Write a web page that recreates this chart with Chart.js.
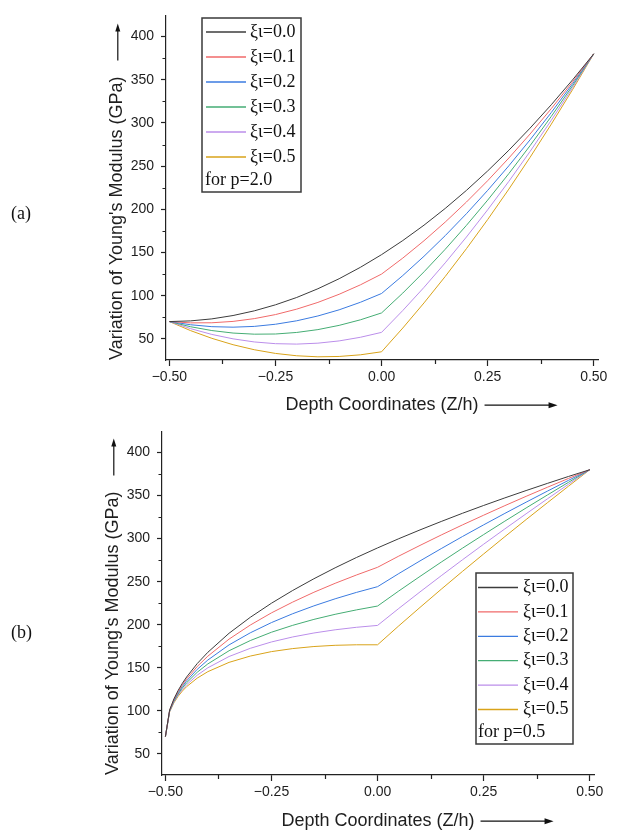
<!DOCTYPE html>
<html>
<head>
<meta charset="utf-8">
<script src="https://cdn.jsdelivr.net/npm/chart.js@4.4.1/dist/chart.umd.min.js"></script>
<style>
  body { margin: 0; background: #fff; width: 620px; height: 832px; position: relative; overflow: hidden; }
  .panel { position: absolute; left: 0; width: 620px; height: 416px; }
  .tag { position: absolute; left: 11px; font: 18px "Liberation Serif", serif; color: #111; }
</style>
</head>
<body>
<div class="panel" style="top:0"><canvas id="chartA"></canvas></div>
<div class="panel" style="top:416px"><canvas id="chartB"></canvas></div>
<div class="tag" style="top:203px">(a)</div>
<div class="tag" style="top:622px">(b)</div>
<script>
// series labels + colours (same for both panels)
const seriesLabels = ['ξι=0.0', 'ξι=0.1', 'ξι=0.2', 'ξι=0.3', 'ξι=0.4', 'ξι=0.5'];
const seriesColors = ['#3c3c3c', '#f06a6a', '#3b7be0', '#45ad74', '#bb8eea', '#d9a31a'];

// (a) p = 2.0
const xA = [-0.5, -0.45, -0.4, -0.35, -0.3, -0.25, -0.2, -0.15, -0.1, -0.05, 0,
            0.05, 0.1, 0.15, 0.2, 0.25, 0.3, 0.35, 0.4, 0.45, 0.5];
const a00 = [70, 70.8, 73.1, 77.0, 82.4, 89.4, 97.9, 108.0, 119.6, 132.8, 147.5, 163.8, 181.6, 201.0, 221.9, 244.4, 268.4, 294.0, 321.1, 349.8, 380];
const a01 = [70, 68.5, 68.6, 70.2, 73.4, 78.1, 84.4, 92.2, 101.6, 112.5, 125.0, 143.5, 163.6, 185.2, 208.4, 233.1, 259.4, 287.2, 316.6, 347.5, 380];
const a02 = [70, 66.3, 64.1, 63.5, 64.4, 66.9, 70.9, 76.5, 83.6, 92.3, 102.5, 123.3, 145.6, 169.5, 194.9, 221.9, 250.4, 280.5, 312.1, 345.3, 380];
const a03 = [70, 64.0, 59.6, 56.7, 55.4, 55.6, 57.4, 60.7, 65.6, 72.0, 80.0, 103.0, 127.6, 153.7, 181.4, 210.6, 241.4, 273.7, 307.6, 343.0, 380];
const a04 = [70, 61.8, 55.1, 50.0, 46.4, 44.4, 43.9, 45.0, 47.6, 51.8, 57.5, 82.8, 109.6, 138.0, 167.9, 199.4, 232.4, 267.0, 303.1, 340.8, 380];
const a05 = [70, 59.5, 50.6, 43.2, 37.4, 33.1, 30.4, 29.2, 29.6, 31.5, 35.0, 62.5, 91.6, 122.2, 154.4, 188.1, 223.4, 260.2, 298.6, 338.5, 380];
const noteA = 'for p=2.0';

// (b) p = 0.5
const xB = [-0.5, -0.49, -0.48, -0.47, -0.46, -0.45, -0.425, -0.4, -0.35, -0.3, -0.25, -0.2, -0.15, -0.1, -0.05, 0,
            0.05, 0.1, 0.15, 0.2, 0.25, 0.3, 0.35, 0.4, 0.45, 0.5];
const b00 = [70, 101.0, 113.8, 123.7, 132.0, 139.3, 154.9, 168.0, 190.1, 208.6, 225.0, 239.8, 253.4, 266.1, 278.0, 289.2, 299.9, 310.1, 319.9, 329.4, 338.5, 347.3, 355.8, 364.1, 372.2, 380];
const b01 = [70, 100.6, 112.9, 122.3, 130.2, 137.1, 151.5, 163.5, 183.3, 199.6, 213.8, 226.3, 237.7, 248.1, 257.7, 266.7, 279.7, 292.1, 304.2, 315.9, 327.2, 338.3, 349.1, 359.6, 369.9, 380];
const b02 = [70, 100.1, 112.0, 121.0, 128.4, 134.8, 148.2, 159.0, 176.6, 190.6, 202.5, 212.8, 221.9, 230.1, 237.5, 244.2, 259.4, 274.1, 288.4, 302.4, 316.0, 329.3, 342.3, 355.1, 367.7, 380];
const b03 = [70, 99.7, 111.1, 119.6, 126.6, 132.6, 144.8, 154.5, 169.8, 181.6, 191.3, 199.3, 206.2, 212.1, 217.2, 221.7, 239.2, 256.1, 272.7, 288.9, 304.7, 320.3, 335.6, 350.6, 365.4, 380];
const b04 = [70, 99.2, 110.2, 118.3, 124.8, 130.3, 141.4, 150.0, 163.1, 172.6, 180.0, 185.8, 190.4, 194.1, 197.0, 199.2, 218.9, 238.1, 256.9, 275.4, 293.5, 311.3, 328.8, 346.1, 363.2, 380];
const b05 = [70, 98.8, 109.3, 116.9, 123.0, 128.1, 138.0, 145.5, 156.3, 163.6, 168.8, 172.3, 174.7, 176.1, 176.7, 176.7, 198.7, 220.1, 241.2, 261.9, 282.2, 302.3, 322.1, 341.6, 360.9, 380];
const noteB = 'for p=0.5';

// axis ticks (minor ticks get an empty label)
const xTickValues = [-0.5, -0.375, -0.25, -0.125, 0, 0.125, 0.25, 0.375, 0.5];
const xTickLabels = ['\u22120.50', '', '\u22120.25', '', '0.00', '', '0.25', '', '0.50'];
const yTickValues = [50, 75, 100, 125, 150, 175, 200, 225, 250, 275, 300, 325, 350, 375, 400];
const yTickLabels = ['50', '', '100', '', '150', '', '200', '', '250', '', '300', '', '350', '', '400'];

const xTitle = 'Depth Coordinates (Z/h)';
const yTitle = "Variation of Young's Modulus (GPa)";

const TITLE_SIZE = 18;
const TITLE_LH = TITLE_SIZE * 1.2;
const INK = '#1e1e1e';
const AXIS = '#222';

Chart.defaults.font.family = '"Liberation Sans", Arial, sans-serif';
Chart.defaults.color = INK;

// legend in a framed box, drawn inside the plot
const boxLegend = {
    id: 'boxLegend',
    afterDraw(chart, args, o) {
        const ctx = chart.ctx;
        ctx.save();
        ctx.strokeStyle = '#3a3a3a';
        ctx.lineWidth = 1.5;
        ctx.strokeRect(o.x, o.y, o.w, o.h);
        ctx.font = '18px "Liberation Serif", serif';
        ctx.textBaseline = 'middle';
        ctx.fillStyle = '#111';
        chart.data.datasets.forEach((ds, i) => {
            const y = o.rowY + i * o.rowGap;
            ctx.strokeStyle = ds.borderColor;
            ctx.lineWidth = 1.3;
            ctx.beginPath();
            ctx.moveTo(o.lineX0, y);
            ctx.lineTo(o.lineX1, y);
            ctx.stroke();
            ctx.fillText(ds.label, o.textX, y);
        });
        ctx.fillText(o.note, o.noteX, o.noteY);
        ctx.restore();
    }
};

// shorter minor ticks + arrows next to the axis titles
const axisExtras = {
    id: 'axisExtras',
    afterDraw(chart) {
        const ctx = chart.ctx;
        const xs = chart.scales.x;
        const ys = chart.scales.y;
        ctx.save();
        ctx.strokeStyle = AXIS;
        ctx.lineWidth = 1.2;

        // minor ticks
        ctx.beginPath();
        xTickValues.forEach((v, i) => {
            if (xTickLabels[i] !== '') return;
            const px = Math.round(xs.getPixelForValue(v)) + 0.5;
            ctx.moveTo(px, xs.top);
            ctx.lineTo(px, xs.top + 4);
        });
        yTickValues.forEach((v, i) => {
            if (yTickLabels[i] !== '') return;
            const py = Math.round(ys.getPixelForValue(v)) + 0.5;
            ctx.moveTo(ys.right, py);
            ctx.lineTo(ys.right - 3.5, py);
        });
        ctx.stroke();

        ctx.font = TITLE_SIZE + 'px "Liberation Sans", Arial, sans-serif';
        ctx.strokeStyle = '#111';
        ctx.fillStyle = '#111';

        // x arrow, right of the title
        const xw = ctx.measureText(xTitle).width;
        const ty = xs.bottom - TITLE_LH / 2;
        const x0 = (xs.left + xs.right) / 2 + xw / 2 + 6;
        const x1 = x0 + 73;
        ctx.beginPath();
        ctx.moveTo(x0, ty);
        ctx.lineTo(x1 - 6, ty);
        ctx.stroke();
        ctx.beginPath();
        ctx.moveTo(x1, ty);
        ctx.lineTo(x1 - 9, ty - 3);
        ctx.lineTo(x1 - 9, ty + 3);
        ctx.closePath();
        ctx.fill();

        // y arrow, above the title
        const yw = ctx.measureText(yTitle).width;
        const tx = ys.left + TITLE_LH / 2 + 6 + 1;
        const yb = ys.bottom - 2 - yw - 14;
        const yt = yb - 37;
        ctx.beginPath();
        ctx.moveTo(tx, yb);
        ctx.lineTo(tx, yt + 5);
        ctx.stroke();
        ctx.beginPath();
        ctx.moveTo(tx, yt);
        ctx.lineTo(tx - 2.5, yt + 8);
        ctx.lineTo(tx + 2.5, yt + 8);
        ctx.closePath();
        ctx.fill();
        ctx.restore();
    }
};

function makeChart(id, xs, series, pad, legendOpts) {
    const datasets = series.map((ys, i) => ({
        label: seriesLabels[i],
        data: xs.map((x, j) => ({ x: x, y: ys[j] })),
        borderColor: seriesColors[i],
        borderWidth: 1,
        pointRadius: 0,
        fill: false,
        tension: 0
    }));

    const config = {
        type: 'line',
        data: { datasets: datasets },
        options: {
            responsive: true,
            maintainAspectRatio: false,
            animation: false,
            layout: { padding: { left: pad.left, right: pad.right, top: pad.top, bottom: 0 } },
            plugins: {
                legend: { display: false },
                tooltip: { enabled: false },
                boxLegend: legendOpts
            },
            scales: {
                x: {
                    type: 'linear',
                    min: -0.508,
                    max: 0.51,
                    afterBuildTicks: s => { s.ticks = xTickValues.map(v => ({ value: v })); },
                    afterFit: s => { s.height = pad.xHeight; },
                    border: { color: AXIS, width: 1.2 },
                    grid: {
                        drawOnChartArea: false, drawTicks: true, tickLength: 6, tickWidth: 1.2,
                        color: AXIS,
                        tickColor: c => (xTickLabels[c.index] === '' ? 'rgba(0,0,0,0)' : AXIS)
                    },
                    ticks: {
                        autoSkip: false,
                        maxRotation: 0,
                        padding: 3,
                        font: { size: 14 },
                        callback: (v, i) => xTickLabels[i]
                    },
                    title: {
                        display: true,
                        text: xTitle,
                        font: { size: TITLE_SIZE },
                        padding: { top: 0, bottom: 0 }
                    }
                },
                y: {
                    type: 'linear',
                    min: 25.5,
                    max: 424.5,
                    afterBuildTicks: s => { s.ticks = yTickValues.map(v => ({ value: v })); },
                    afterFit: s => { s.width = 66; },
                    border: { color: AXIS, width: 1.2 },
                    grid: {
                        drawOnChartArea: false, drawTicks: true, tickLength: 5, tickWidth: 1.2,
                        color: AXIS,
                        tickColor: c => (yTickLabels[c.index] === '' ? 'rgba(0,0,0,0)' : AXIS)
                    },
                    ticks: {
                        autoSkip: false,
                        padding: 7,
                        font: { size: 14 },
                        callback: (v, i) => yTickLabels[i]
                    },
                    title: {
                        display: true,
                        text: yTitle,
                        align: 'start',
                        font: { size: TITLE_SIZE },
                        padding: { top: 6, bottom: 0 }
                    }
                }
            }
        },
        plugins: [boxLegend, axisExtras]
    };

    return new Chart(document.getElementById(id).getContext('2d'), config);
}

makeChart('chartA', xA, [a00, a01, a02, a03, a04, a05],
    { left: 100, right: 22, top: 5, xHeight: 56 },
    { x: 202, y: 18, w: 99, h: 174, rowY: 32, rowGap: 25, lineX0: 206, lineX1: 246, textX: 250,
      note: noteA, noteX: 205, noteY: 180 });

makeChart('chartB', xB, [b00, b01, b02, b03, b04, b05],
    { left: 96, right: 26, top: 12, xHeight: 57 },
    { x: 476, y: 157, w: 97, h: 171, rowY: 171.5, rowGap: 24.4, lineX0: 478, lineX1: 518, textX: 523,
      note: noteB, noteX: 478, noteY: 316.5 });
</script>
</body>
</html>
